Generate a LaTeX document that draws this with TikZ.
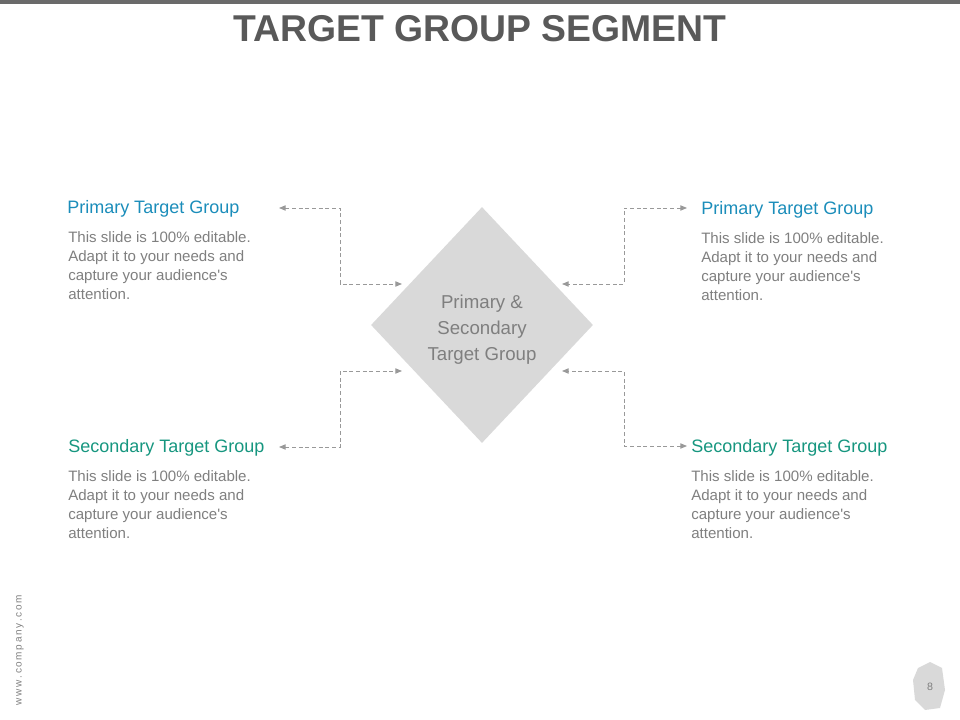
\documentclass[tikz,border=0pt]{standalone}
\usepackage{fontspec}
\setmainfont{Liberation Sans}[Ligatures=NoCommon]
\usetikzlibrary{shapes.geometric,arrows.meta}
\definecolor{ttl}{HTML}{595959}
\definecolor{prim}{HTML}{1B8DBA}
\definecolor{sec}{HTML}{16967F}
\definecolor{body}{HTML}{7F7F7F}
\definecolor{dia}{HTML}{D9D9D9}
\newcommand{\aq}{\textquotesingle}
\tikzset{
  head/.style={anchor=west,font=\fontsize{13.5}{16}\selectfont,inner sep=0pt},
  bodytxt/.style={anchor=north west,align=left,text=body,font=\fontsize{11.3}{14.3}\selectfont,inner sep=0pt},
  conn/.style={draw=gray!80,dashed,dash pattern=on 3pt off 2pt,line width=0.7pt,{Triangle[length=5pt,width=4pt]}-{Triangle[length=5pt,width=4pt]}}
}
\begin{document}
\begin{tikzpicture}[x=0.75pt,y=-0.75pt]
\useasboundingbox (0,0) rectangle (960,720);
\fill[ttl!90] (0,0) rectangle (960,4);
\node[font=\bfseries\fontsize{28}{30}\selectfont,text=ttl] (title) at (480,29) {TARGET GROUP SEGMENT};
\node[diamond,fill=dia,minimum width=222*0.75pt,minimum height=236*0.75pt,inner sep=0pt] (d) at (482,325) {};
\node[align=center,text=body,font=\fontsize{14}{19.5}\selectfont] (dt) at (482,330) {Primary \&\\Secondary\\Target Group};
% texts
\node[head,text=prim] (h1) at (67,209) {Primary Target Group};
\node[bodytxt] (b1) at (68,231) {This slide is 100\% editable.\\Adapt it to your needs and\\capture your audience\aq s\\attention.};
\node[head,text=prim] (h2) at (701,210) {Primary Target Group};
\node[bodytxt] (b2) at (701,232) {This slide is 100\% editable.\\Adapt it to your needs and\\capture your audience\aq s\\attention.};
\node[head,text=sec] (h3) at (68,448) {Secondary Target Group};
\node[bodytxt] (b3) at (68,470) {This slide is 100\% editable.\\Adapt it to your needs and\\capture your audience\aq s\\attention.};
\node[head,text=sec] (h4) at (691,448) {Secondary Target Group};
\node[bodytxt] (b4) at (691,470) {This slide is 100\% editable.\\Adapt it to your needs and\\capture your audience\aq s\\attention.};
% connector ends
\coordinate (a1) at (279,208); \coordinate (e1) at (402,284);
\coordinate (a2) at (687,208); \coordinate (e2) at (562,284);
\coordinate (a3) at (279,447); \coordinate (e3) at (402,371);
\coordinate (a4) at (687,446); \coordinate (e4) at (562,371);
\draw[conn] (a1) -- (340,208) -- (340,284) -- (e1);
\draw[conn] (a2) -- (624,208) -- (624,284) -- (e2);
\draw[conn] (a3) -- (340,447) -- (340,371) -- (e3);
\draw[conn] (a4) -- (624,446) -- (624,371) -- (e4);
\node[rotate=90,text=body,font=\fontsize{7.5}{9}\selectfont] (url) at (20,650) {w\,w\,w\,.\,c\,o\,m\,p\,a\,n\,y\,.\,c\,o\,m};
\fill[dia] (918,668) -- (930,662) -- (942,668) -- (945,690) -- (940,708) -- (925,710) -- (915,700) -- (913,680) -- cycle;
\node[text=body,font=\fontsize{8}{9}\selectfont] (pg) at (930,687) {8};
\end{tikzpicture}
\end{document}
